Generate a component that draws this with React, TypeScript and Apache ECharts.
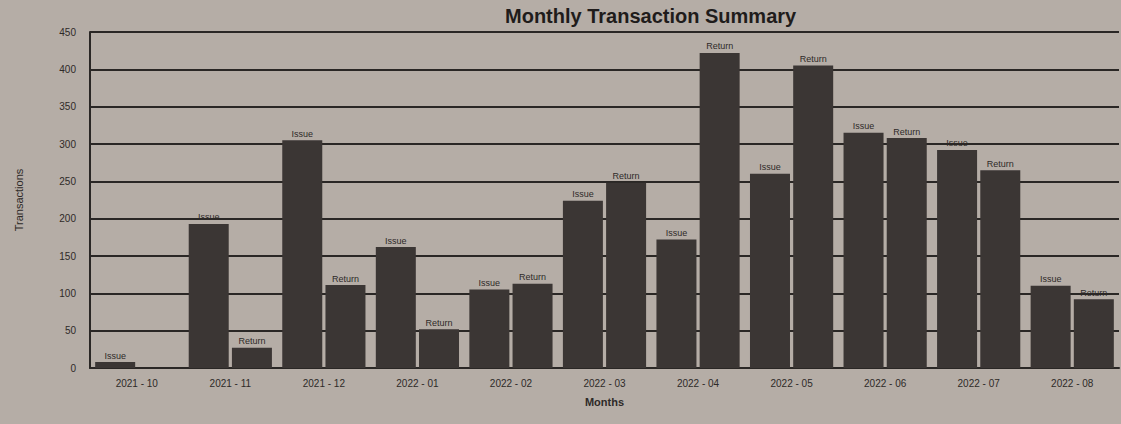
import React, { useEffect, useRef } from "react";
import * as echarts from "echarts";

const months = [
  "2021 - 10", "2021 - 11", "2021 - 12", "2022 - 01", "2022 - 02", "2022 - 03",
  "2022 - 04", "2022 - 05", "2022 - 06", "2022 - 07", "2022 - 08",
];
const issueValues = [8, 193, 305, 162, 105, 224, 172, 260, 315, 292, 110];
const returnValues = [0, 27, 111, 52, 113, 248, 422, 405, 308, 265, 92];
const yTicks = { min: 0, max: 450, interval: 50 };

const TEXT = "#2e2a28";
const BAR = "#3b3634";
const LINE = "#2a2725";
const FONT = "Liberation Sans, Arial, sans-serif";

export default function App() {
  const ref = useRef<HTMLDivElement>(null);
  useEffect(() => {
    if (!ref.current) return;
    const chart = echarts.init(ref.current, null, { renderer: "svg" });
    const label = (name: string) => ({
      show: true,
      position: "top",
      distance: 2,
      color: TEXT,
      fontSize: 9,
      fontFamily: FONT,
      formatter: (p: any) => (p.value > 0 ? name : ""),
    });
    chart.setOption({
      animation: false,
      backgroundColor: "#b5ada6",
      textStyle: { fontFamily: FONT },
      title: {
        text: "Monthly Transaction Summary",
        left: 500,
        top: 1,
        textStyle: { fontSize: 20, fontWeight: "bold", color: "#1f1c1b", fontFamily: FONT },
      },
      grid: { left: 90, right: 2, top: 32, bottom: 56, containLabel: false },
      xAxis: {
        type: "category",
        data: months,
        name: "Months",
        nameLocation: "middle",
        nameGap: 28,
        nameTextStyle: { color: TEXT, fontSize: 11, fontWeight: "bold", fontFamily: FONT },
        axisLine: { show: true, lineStyle: { color: LINE, width: 2 } },
        axisTick: { show: false },
        axisLabel: { color: TEXT, fontSize: 10, margin: 10, fontFamily: FONT },
      },
      yAxis: {
        type: "value",
        min: yTicks.min,
        max: yTicks.max,
        interval: yTicks.interval,
        name: "Transactions",
        nameLocation: "middle",
        nameGap: 66,
        nameTextStyle: { color: TEXT, fontSize: 11, fontFamily: FONT },
        axisLine: { show: true, lineStyle: { color: LINE, width: 2 } },
        axisTick: { show: false },
        axisLabel: { color: TEXT, fontSize: 10, margin: 14, fontFamily: FONT },
        splitLine: { show: true, lineStyle: { color: LINE, width: 2 } },
      },
      series: [
        {
          name: "Issue",
          type: "bar",
          data: issueValues,
          barWidth: 40,
          barGap: "8%",
          itemStyle: { color: BAR },
          label: label("Issue"),
        },
        {
          name: "Return",
          type: "bar",
          data: returnValues,
          barWidth: 40,
          itemStyle: { color: BAR },
          label: label("Return"),
        },
      ],
    });
    return () => chart.dispose();
  }, []);
  return (
    <div
      ref={ref}
      style={{ position: "fixed", left: 0, top: 0, width: 1121, height: 424 }}
    />
  );
}
